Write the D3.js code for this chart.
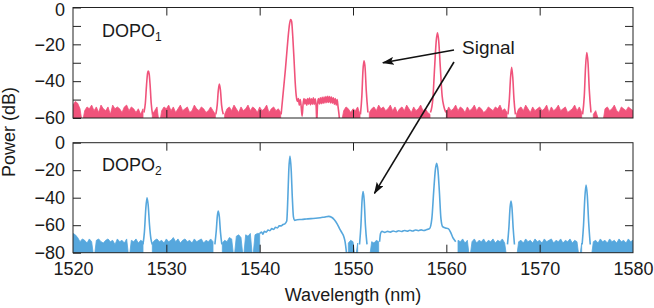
<!DOCTYPE html>
<html>
<head>
<meta charset="utf-8">
<script src="https://cdn.jsdelivr.net/npm/d3@7"></script>
<style>
    body { margin: 0; background: #fff; }
    text { font-family: "Liberation Sans", Arial, Helvetica, sans-serif; fill: #1a1a1a; }
</style>
</head>
<body>
<div id="chart"></div>
<script>
// ---- data ----
const xTicks = [1520, 1530, 1540, 1550, 1560, 1570, 1580];
const topYTicks = [0, -10, -20, -30, -40, -50, -60];
const botYTicks = [0, -20, -40, -60, -80];
const panelLabels = ["DOPO", "DOPO"];
const panelSubs = ["1", "2"];
const signalText = "Signal";

// noise floor envelope, sampled every 0.25 nm from 1520 (null = covered by a peak)
const noiseStart = 1520, noiseStep = 0.25;
const dopo1Noise = [
    -53,-51,-52,-55,-63,-56,-54,-55,-53,-56,-54,-57,-53,-55,-56,-54,-58,-53,-55,-54,
    -55,-57,-54,-53,-56,-54,-55,-57,-55,-58,-55,null,null,null,-58,-56,-54,-64,-56,-54,
    -55,-53,-56,-54,-57,-55,-53,-56,-55,-54,-57,-56,-53,-55,-56,-54,-55,-57,-56,-54,
    -56,-58,null,null,null,-58,-55,-54,-56,-53,-55,-57,-54,-56,-55,-53,-56,-54,-55,-57,
    -54,-56,-55,-53,-57,-55,-54,-56,-55,-57,null,null,null,null,null,null,null,null,null,null,
    null,null,null,null,null,null,null,null,null,null,null,null,null,null,null,-63,-56,-54,-55,-57,
    -55,-56,-54,-58,null,null,null,-57,-55,-54,-56,-53,-55,-54,-56,-55,-53,-56,-54,-57,
    -55,-54,-56,-53,-55,-57,-54,-56,-55,-53,-56,-55,-57,-58,null,null,null,null,null,null,
    -57,-54,-56,-55,-53,-56,-54,-55,-57,-54,-56,-55,-53,-56,-54,-55,-57,-56,-54,-55,
    -56,-54,-55,-53,-56,-55,-57,null,null,null,-58,-55,-54,-56,-53,-55,-57,-54,-56,-55,
    -54,-56,-55,-53,-57,-54,-56,-55,-53,-56,-55,-54,-57,-56,-55,-53,-56,-54,-57,null,
    null,null,null,-58,-56,-60,-64,-63,-55,-54,-56,-55,-53,-56,-57,-54,-55,-56,-54,-55,-56
];
const dopo2Noise = [
    -66,-67,-69,-72,-70,-71,-73,-70,-72,-85,-71,-70,-72,-73,-71,-70,-72,-71,-74,-70,
    -72,-71,-73,-70,-85,-71,-72,-70,-73,-71,-72,null,null,null,-73,-71,-70,-72,-71,-73,
    -70,-72,-71,-69,-72,-70,-73,-71,-70,-72,-71,-73,-70,-72,-71,-70,-73,-71,-72,-70,
    -72,null,null,null,-73,-71,-72,-69,-70,-85,-68,-67,-69,-85,-67,-68,-66,-85,-67,-66,
    -66,null,null,null,null,null,null,null,null,null,null,null,null,null,null,null,null,null,null,null,
    null,null,null,null,null,null,null,null,null,null,null,null,null,null,null,null,null,null,-73,-71,
    -72,-85,-73,null,null,null,null,-85,-72,-73,-71,-72,null,null,null,null,null,null,null,null,
    null,null,null,null,null,null,null,null,null,null,null,null,null,null,null,null,null,null,null,null,
    null,null,null,null,null,-71,-72,-70,-73,-71,-85,-72,-70,-73,-71,-72,-70,-73,-71,-72,
    -70,-73,-71,-72,-70,-73,-85,null,null,null,-85,-72,-71,-73,-70,-72,-71,-73,-70,-72,
    -71,-73,-70,-72,-71,-70,-73,-71,-72,-70,-73,-71,-72,-70,-73,-71,-72,-85,-73,null,
    null,null,-85,-72,-71,-73,-70,-72,-71,-73,-70,-72,-71,-73,-70,-72,-71,-73,-70,-72,-71
];

// spectral lines [wavelength nm, power dB]
const dopo1Lines = [
    [[1527.6,-57],[1527.75,-52],[1527.88,-42],[1527.98,-36],[1528.07,-34.5],[1528.16,-36],[1528.26,-42],[1528.38,-52],[1528.52,-58]],
    [[1535.3,-58],[1535.45,-53],[1535.57,-45],[1535.68,-41.5],[1535.8,-45],[1535.92,-53],[1536.1,-58]],
    [[1542.3,-58],[1542.45,-50],[1542.6,-42],[1542.75,-34],[1542.9,-25],[1543.05,-16],[1543.2,-9],[1543.32,-6.5],[1543.42,-7.5],
     [1543.55,-16],[1543.68,-28],[1543.8,-40],[1543.92,-48],[1544.05,-51],[1544.15,-49.5],[1544.25,-53],[1544.35,-50],[1544.45,-54],
     [1544.55,-59],[1544.65,-52.5],[1544.75,-49.5],[1544.85,-52.5],[1544.95,-49.8],[1545.05,-53],[1545.15,-49.5],[1545.25,-52.5],[1545.35,-49.2],
     [1545.45,-52.8],[1545.55,-49.6],[1545.65,-52.5],[1545.75,-49],[1545.85,-52.6],[1545.95,-49.6],[1546.05,-53.5],[1546.12,-62],
     [1546.2,-52.5],[1546.3,-49.4],[1546.4,-52.4],[1546.5,-49],[1546.6,-52.2],[1546.7,-48.8],[1546.8,-52],[1546.9,-48.6],[1547.0,-51.8],
     [1547.1,-48.4],[1547.2,-51.6],[1547.3,-48.2],[1547.4,-51.5],[1547.5,-48.4],[1547.6,-51.8],[1547.7,-48.6],[1547.8,-52],[1547.9,-49],
     [1548.0,-52.5],[1548.1,-49.4],[1548.2,-53],[1548.3,-50],[1548.4,-54],[1548.5,-58],[1548.6,-64]],
    [[1550.8,-58],[1550.95,-48],[1551.07,-34],[1551.18,-29],[1551.3,-33],[1551.42,-45],[1551.6,-57]],
    [[1558.3,-57],[1558.55,-50],[1558.75,-32],[1558.92,-18],[1559.05,-13.7],[1559.18,-18],[1559.35,-32],[1559.55,-48],[1559.75,-54],[1559.95,-57]],
    [[1566.6,-58],[1566.75,-50],[1566.88,-38],[1567.0,-32.5],[1567.12,-38],[1567.25,-50],[1567.4,-58]],
    [[1574.6,-58],[1574.78,-48],[1574.92,-32],[1575.05,-24.5],[1575.18,-30],[1575.32,-45],[1575.5,-57]]
];
const dopo2Lines = [
    [[1527.5,-74],[1527.65,-65],[1527.8,-48],[1527.93,-40],[1528.05,-45],[1528.2,-60],[1528.35,-70],[1528.5,-74]],
    [[1535.2,-74],[1535.35,-64],[1535.47,-53],[1535.57,-49.7],[1535.68,-54],[1535.8,-65],[1535.95,-74]],
    [[1540,-66],[1540.2,-65],[1540.35,-66.5],[1540.5,-64.5],[1540.7,-65],[1540.9,-63.5],[1541.1,-64],[1541.3,-62.5],[1541.5,-63],
     [1541.7,-61.5],[1541.9,-62],[1542.1,-60.5],[1542.3,-60.5],[1542.5,-59.5],[1542.7,-59],[1542.9,-57],[1543.02,-40],[1543.12,-20],
     [1543.25,-9.7],[1543.38,-20],[1543.5,-40],[1543.62,-54],[1543.75,-56.5],[1544,-56],[1544.5,-55.8],[1545,-55.5],[1545.5,-55.2],
     [1546,-55],[1546.5,-54.6],[1547,-54],[1547.4,-53.6],[1547.7,-54.2],[1548,-56],[1548.3,-59],[1548.6,-63],[1548.85,-66],
     [1549.0,-68],[1549.15,-72],[1549.3,-80]],
    [[1550.7,-74],[1550.85,-60],[1550.97,-42],[1551.08,-35.6],[1551.2,-42],[1551.33,-60],[1551.5,-74]],
    [[1552.85,-72],[1552.95,-66],[1553.1,-64.5],[1553.4,-65.2],[1553.7,-64.5],[1554,-65],[1554.3,-64.2],[1554.6,-64.8],[1554.9,-64],
     [1555.2,-64.6],[1555.5,-63.8],[1555.8,-64.4],[1556.1,-63.7],[1556.4,-64.2],[1556.7,-63.5],[1557,-64],[1557.3,-63.4],[1557.6,-63.8],
     [1557.9,-63.2],[1558.2,-62.5],[1558.45,-55],[1558.65,-35],[1558.82,-20],[1558.96,-15],[1559.1,-20],[1559.25,-35],[1559.42,-55],
     [1559.6,-61],[1559.9,-62],[1560.2,-62.5],[1560.45,-65],[1560.7,-69],[1560.9,-71],[1561.0,-72]],
    [[1566.55,-74],[1566.7,-62],[1566.83,-47],[1566.93,-42.4],[1567.03,-47],[1567.16,-62],[1567.3,-74]],
    [[1574.55,-74],[1574.7,-60],[1574.84,-40],[1574.97,-30.8],[1575.1,-38],[1575.25,-58],[1575.42,-74]]
];

const colors = ["#f0537b", "#56a7dd"];

// ---- layout ----
const W = 654, H = 308;
const left = 73, right = 633;

const svg = d3.select("#chart").append("svg")
    .attr("width", W)
    .attr("height", H);

const x = d3.scaleLinear().domain([1520, 1580]).range([left, right]);

const panels = [
    {y: d3.scaleLinear().domain([-60, 0]).range([118, 7.5]), ticks: topYTicks,
     noise: dopo1Noise, lines: dopo1Lines, color: colors[0], label: 0, labelY: 37},
    {y: d3.scaleLinear().domain([-80, 0]).range([252.7, 142.7]), ticks: botYTicks,
     noise: dopo2Noise, lines: dopo2Lines, color: colors[1], label: 1, labelY: 171}
];

const defs = svg.append("defs");
defs.append("marker")
    .attr("id", "arrow")
    .attr("viewBox", "0 0 12 8")
    .attr("refX", 11).attr("refY", 4)
    .attr("markerWidth", 12).attr("markerHeight", 8)
    .attr("markerUnits", "userSpaceOnUse")
    .attr("orient", "auto")
    .append("path")
    .attr("d", "M0,0 L12,4 L0,8 L2.5,4 Z")
    .attr("fill", "#111");

panels.forEach((p, k) => {
    let top = p.y.range()[1], bottom = p.y.range()[0];

    defs.append("clipPath").attr("id", "clip" + k)
        .append("rect")
        .attr("x", left).attr("y", top)
        .attr("width", right - left).attr("height", bottom - top);

    let g = svg.append("g").attr("clip-path", "url(#clip" + k + ")");

    // noise floor
    let noiseData = p.noise.map((v, i) => ({wl: noiseStart + i * noiseStep, v: v}));
    let area = d3.area()
        .defined(d => d.v !== null)
        .x(d => x(d.wl))
        .y0(bottom + 5)
        .y1(d => p.y(d.v))
        .curve(d3.curveLinear);
    g.append("path")
        .datum(noiseData)
        .attr("d", area)
        .attr("fill", p.color)
        .attr("stroke", p.color)
        .attr("stroke-width", 0.8)
        .attr("stroke-linejoin", "miter");

    // peaks and pump shoulders
    let line = d3.line()
        .x(d => x(d[0]))
        .y(d => p.y(d[1]))
        .curve(d3.curveMonotoneX);
    g.selectAll(".trace")
        .data(p.lines)
        .enter()
        .append("path")
        .attr("class", "trace")
        .attr("d", line)
        .attr("fill", "none")
        .attr("stroke", p.color)
        .attr("stroke-width", 1.6)
        .attr("stroke-linejoin", "round");

    // axes (ticks point inward)
    let yl = svg.append("g")
        .attr("transform", "translate(" + left + ",0)")
        .call(d3.axisLeft(p.y).tickValues(p.ticks).tickSize(-8).tickPadding(8)
            .tickFormat(d => d % 20 === 0 ? d3.format("d")(d) : ""));
    let yr = svg.append("g")
        .attr("transform", "translate(" + right + ",0)")
        .call(d3.axisRight(p.y).tickValues(p.ticks.slice(1, -1)).tickSize(-8).tickFormat(""));
    let xt = svg.append("g")
        .attr("transform", "translate(0," + top + ")")
        .call(d3.axisTop(x).tickValues(xTicks.slice(1, -1)).tickSize(-8).tickFormat(""));
    let xb = svg.append("g")
        .attr("transform", "translate(0," + bottom + ")")
        .call(d3.axisBottom(x).tickValues(k === 1 ? xTicks : xTicks.slice(1, -1)).tickSize(-8).tickPadding(9.5)
            .tickFormat(k === 1 ? d3.format("d") : ""));
    if (k === 1) {
        xb.selectAll(".tick line").filter(d => d === 1520 || d === 1580).remove();
    }

    [yl, yr, xt, xb].forEach(a => {
        a.select(".domain").remove();
        a.selectAll(".tick line").attr("stroke", "#222");
        a.selectAll("text").attr("font-size", 18).attr("fill", "#1a1a1a")
            .attr("font-family", "'Liberation Sans', Arial, sans-serif");
    });
    // keep the top "0" inside the page
    if (k === 0) {
        yl.selectAll(".tick text").filter(d => d === 0).attr("dy", "0.45em");
    }

    svg.append("rect")
        .attr("x", left).attr("y", top)
        .attr("width", right - left).attr("height", bottom - top)
        .attr("fill", "none")
        .attr("stroke", "#222")
        .attr("stroke-width", 1);

    let lbl = svg.append("text")
        .attr("x", 102).attr("y", p.labelY)
        .attr("font-size", 18)
        .text(panelLabels[p.label]);
    lbl.append("tspan")
        .attr("font-size", 12)
        .attr("dy", 4)
        .text(panelSubs[p.label]);
});

// Signal annotation
svg.append("text")
    .attr("x", 462).attr("y", 54)
    .attr("font-size", 19)
    .text(signalText);

svg.append("line")
    .attr("x1", 454).attr("y1", 50)
    .attr("x2", x(1553.2)).attr("y2", panels[0].y(-30))
    .attr("stroke", "#111").attr("stroke-width", 1.6)
    .attr("marker-end", "url(#arrow)");
svg.append("line")
    .attr("x1", 454).attr("y1", 62)
    .attr("x2", x(1552.3)).attr("y2", panels[1].y(-36.8))
    .attr("stroke", "#111").attr("stroke-width", 1.6)
    .attr("marker-end", "url(#arrow)");

// axis titles
svg.append("text")
    .attr("transform", "translate(15,132) rotate(-90)")
    .attr("text-anchor", "middle")
    .attr("font-size", 18)
    .text("Power (dB)");
svg.append("text")
    .attr("x", 353).attr("y", 301)
    .attr("text-anchor", "middle")
    .attr("font-size", 18)
    .text("Wavelength (nm)");
</script>
</body>
</html>
